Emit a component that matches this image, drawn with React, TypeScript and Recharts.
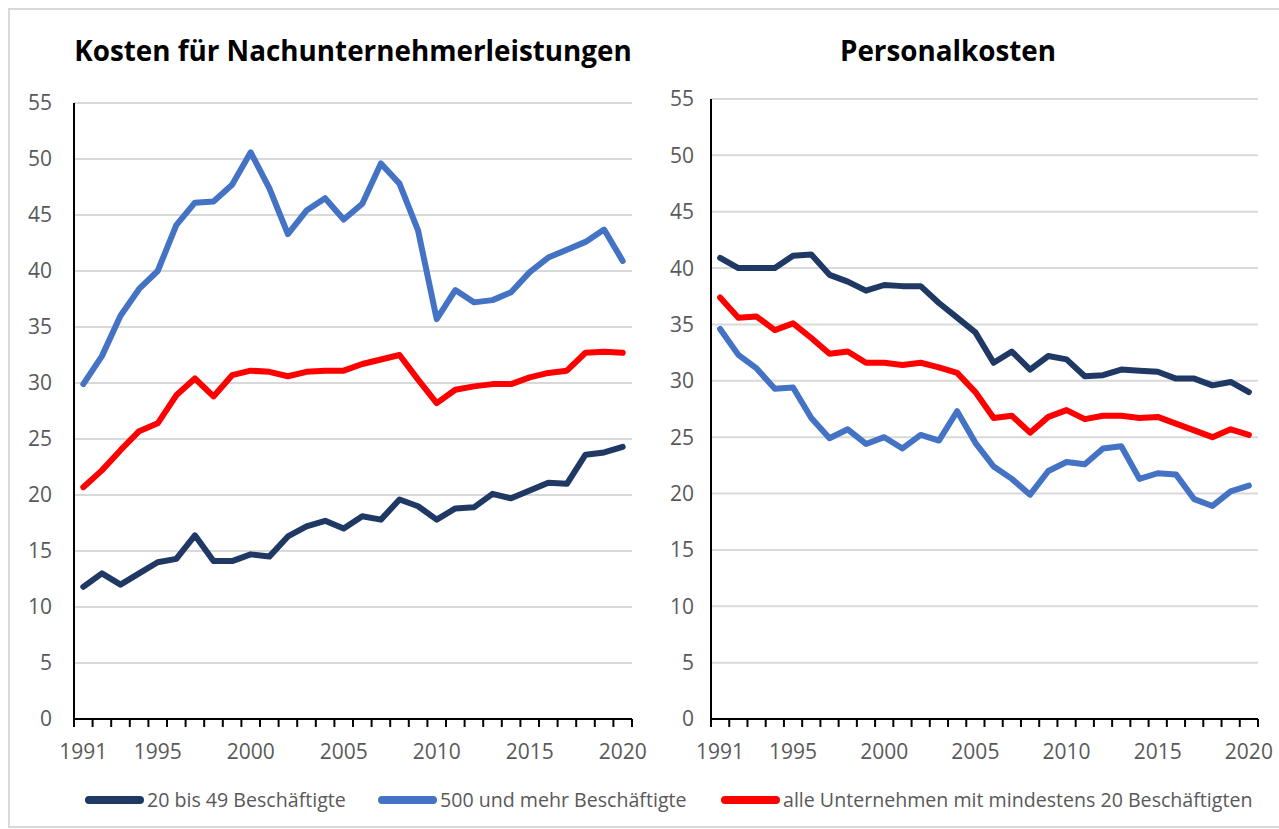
import { CartesianGrid, Line, LineChart, XAxis, YAxis } from "recharts";

const YEARS = [
  1991, 1992, 1993, 1994, 1995, 1996, 1997, 1998, 1999, 2000, 2001, 2002, 2003, 2004, 2005,
  2006, 2007, 2008, 2009, 2010, 2011, 2012, 2013, 2014, 2015, 2016, 2017, 2018, 2019, 2020,
];
const LABEL_YEARS = [1991, 1995, 2000, 2005, 2010, 2015, 2020];
const Y_TICKS = [0, 5, 10, 15, 20, 25, 30, 35, 40, 45, 50, 55];

const SERIES_NAMES = [
  "20 bis 49 Beschäftigte",
  "500 und mehr Beschäftigte",
  "alle Unternehmen mit mindestens 20 Beschäftigten",
];
const COLORS = ["#203864", "#4472C4", "#FF0000"];

// Kosten für Nachunternehmerleistungen
const nuSmall = [
  11.8, 13.0, 12.0, 13.0, 14.0, 14.3, 16.4, 14.1, 14.1, 14.7, 14.5, 16.3, 17.2, 17.7, 17.0,
  18.1, 17.8, 19.6, 19.0, 17.8, 18.8, 18.9, 20.1, 19.7, 20.4, 21.1, 21.0, 23.6, 23.8, 24.3,
];
const nuLarge = [
  29.9, 32.4, 36.0, 38.4, 40.0, 44.1, 46.1, 46.2, 47.7, 50.6, 47.4, 43.3, 45.4, 46.5, 44.6,
  46.0, 49.6, 47.8, 43.6, 35.7, 38.3, 37.2, 37.4, 38.1, 39.9, 41.2, 41.9, 42.6, 43.7, 40.9,
];
const nuAll = [
  20.7, 22.2, 24.0, 25.7, 26.4, 28.9, 30.4, 28.8, 30.7, 31.1, 31.0, 30.6, 31.0, 31.1, 31.1,
  31.7, 32.1, 32.5, 30.3, 28.2, 29.4, 29.7, 29.9, 29.9, 30.5, 30.9, 31.1, 32.7, 32.8, 32.7,
];

// Personalkosten
const pkSmall = [
  40.9, 40.0, 40.0, 40.0, 41.1, 41.2, 39.4, 38.8, 38.0, 38.5, 38.4, 38.4, 36.9, 35.6, 34.3,
  31.6, 32.6, 31.0, 32.2, 31.9, 30.4, 30.5, 31.0, 30.9, 30.8, 30.2, 30.2, 29.6, 29.9, 29.0,
];
const pkLarge = [
  34.6, 32.3, 31.1, 29.3, 29.4, 26.7, 24.9, 25.7, 24.4, 25.0, 24.0, 25.2, 24.7, 27.3, 24.5,
  22.4, 21.3, 19.9, 22.0, 22.8, 22.6, 24.0, 24.2, 21.3, 21.8, 21.7, 19.5, 18.9, 20.2, 20.7,
];
const pkAll = [
  37.4, 35.6, 35.7, 34.5, 35.1, 33.8, 32.4, 32.6, 31.6, 31.6, 31.4, 31.6, 31.2, 30.7, 29.0,
  26.7, 26.9, 25.4, 26.8, 27.4, 26.6, 26.9, 26.9, 26.7, 26.8, 26.2, 25.6, 25.0, 25.7, 25.2,
];

const buildRows = (a: number[], b: number[], c: number[]) =>
  YEARS.map((year, i) => ({ year, s0: a[i], s1: b[i], s2: c[i] }));

const nuRows = buildRows(nuSmall, nuLarge, nuAll);
const pkRows = buildRows(pkSmall, pkLarge, pkAll);

const FONT = "'Open Sans', 'DejaVu Sans', sans-serif";

function YearTick(props: any) {
  const { x, y, payload, index, step } = props;
  return (
    <g>
      <line x1={x - step / 2} x2={x - step / 2} y1={y} y2={y + 8} stroke="#000" strokeWidth={2} />
      {index === YEARS.length - 1 && (
        <line x1={x + step / 2} x2={x + step / 2} y1={y} y2={y + 8} stroke="#000" strokeWidth={2} />
      )}
      {LABEL_YEARS.includes(payload.value) && (
        <text x={x} y={y + 40} textAnchor="middle" fill="#595959" fontSize={21}>
          {payload.value}
        </text>
      )}
    </g>
  );
}

type PanelProps = {
  rows: { year: number; s0: number; s1: number; s2: number }[];
  width: number;
  top: number;
  right: number;
  yAxisWidth: number;
  labelGap: number;
};

function Panel({ rows, width, top, right, yAxisWidth, labelGap }: PanelProps) {
  const step = (width - right - yAxisWidth) / YEARS.length;
  return (
    <LineChart width={width} height={780} data={rows} margin={{ top, right, bottom: 0, left: 0 }}>
      <CartesianGrid vertical={false} stroke="#d9d9d9" strokeWidth={2} />
      <XAxis
        dataKey="year"
        height={61}
        interval={0}
        padding={{ left: step / 2, right: step / 2 }}
        axisLine={{ stroke: "#000", strokeWidth: 2 }}
        tickLine={false}
        tickSize={0}
        tickMargin={0}
        tick={(p: any) => <YearTick {...p} step={step} />}
      />
      <YAxis
        width={yAxisWidth}
        domain={[0, 55]}
        ticks={Y_TICKS}
        interval={0}
        axisLine={{ stroke: "#000", strokeWidth: 2 }}
        tickLine={false}
        tickSize={0}
        tickMargin={labelGap}
        tick={{ fill: "#595959", fontSize: 21 }}
      />
      {["s0", "s1", "s2"].map((key, i) => (
        <Line
          key={key}
          dataKey={key}
          name={SERIES_NAMES[i]}
          stroke={COLORS[i]}
          strokeWidth={6}
          strokeLinejoin="round"
          strokeLinecap="round"
          dot={false}
          isAnimationActive={false}
        />
      ))}
    </LineChart>
  );
}

const LEGEND_LEFT = [85, 378, 721];

export default function App() {
  return (
    <div
      style={{
        position: "absolute",
        left: 0,
        top: 0,
        width: 1279,
        height: 829,
        background: "#fff",
        fontFamily: FONT,
        overflow: "hidden",
      }}
    >
      <div
        style={{
          position: "absolute",
          left: 8,
          top: 8,
          width: 1290,
          height: 816,
          border: "2px solid #d9d9d9",
        }}
      />
      <div
        style={{
          position: "absolute",
          left: 74,
          width: 558,
          top: 31,
          textAlign: "center",
          fontWeight: 700,
          fontSize: 27.8,
          color: "#000",
          whiteSpace: "nowrap",
        }}
      >
        Kosten für Nachunternehmerleistungen
      </div>
      <div
        style={{
          position: "absolute",
          left: 711,
          width: 474,
          top: 31,
          textAlign: "center",
          fontWeight: 700,
          fontSize: 27.8,
          color: "#000",
        }}
      >
        Personalkosten
      </div>
      <div style={{ position: "absolute", left: 0, top: 0 }}>
        <Panel rows={nuRows} width={650} top={103} right={18} yAxisWidth={74} labelGap={22} />
      </div>
      <div style={{ position: "absolute", left: 650, top: 0 }}>
        <Panel rows={pkRows} width={629} top={99} right={21} yAxisWidth={61} labelGap={17} />
      </div>
      {SERIES_NAMES.map((name, i) => (
        <div
          key={name}
          style={{
            position: "absolute",
            left: LEGEND_LEFT[i],
            top: 786,
            display: "flex",
            alignItems: "center",
            color: "#595959",
            fontSize: 19.6,
            whiteSpace: "nowrap",
          }}
        >
          <span
            style={{
              display: "inline-block",
              width: 59,
              height: 8,
              borderRadius: 4,
              background: COLORS[i],
              marginRight: 3,
            }}
          />
          {name}
        </div>
      ))}
    </div>
  );
}
